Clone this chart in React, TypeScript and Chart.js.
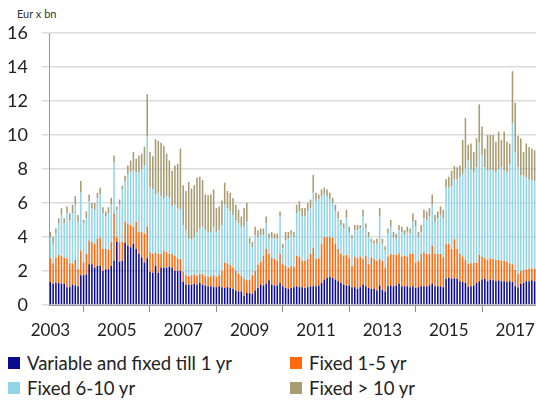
import React, { useEffect, useRef } from 'react';
import Chart from 'chart.js/auto';

// Jan 2003 .. Aug 2017, one value per month, EUR bn
const years = [2003, 2004, 2005, 2006, 2007, 2008, 2009, 2010, 2011, 2012, 2013, 2014, 2015, 2016, 2017];
const tickYears = ['2003', '2005', '2007', '2009', '2011', '2013', '2015', '2017'];

const variableTill1 = [
  1.35, 1.25, 1.3, 1.3, 1.25, 1.25, 1.05, 1.05, 1.2, 1.15, 1.1, 1.75,
  1.75, 1.8, 2.4, 2.4, 2.2, 2.3, 2.3, 2.0, 2.1, 2.1, 2.3, 2.6,
  3.7, 2.55, 2.6, 3.65, 3.5, 3.4, 3.6, 3.3, 3.0, 2.8, 2.5, 2.75,
  1.95, 1.9, 2.3, 1.9, 2.2, 2.2, 2.2, 2.25, 2.2, 2.0, 2.0, 2.0,
  1.35, 1.2, 1.2, 1.2, 1.25, 1.2, 1.3, 1.2, 1.15, 1.1, 1.1, 1.05,
  1.05, 1.1, 1.05, 1.0, 1.05, 1.0, 0.95, 0.85, 0.8, 0.8, 0.55, 0.7,
  0.7, 0.65, 0.85, 1.0, 1.2, 1.15, 1.25, 1.45, 1.2, 1.15, 1.15, 1.3,
  1.1, 1.0, 0.95, 1.0, 1.05, 1.1, 1.05, 1.05, 1.0, 1.05, 1.1, 1.1,
  1.1, 1.15, 1.3, 1.5, 1.6, 1.65, 1.6, 1.5, 1.4, 1.3, 1.2, 1.15,
  1.15, 1.05, 1.05, 0.95, 1.05, 1.2, 1.1, 1.0, 0.95, 0.95, 0.85, 1.15,
  0.9, 0.8, 1.1, 1.15, 1.1, 1.15, 1.25, 1.1, 1.1, 1.1, 1.05, 1.1,
  1.0, 1.05, 1.1, 1.1, 1.1, 1.15, 1.25, 1.1, 1.1, 1.1, 1.05, 1.55,
  1.6, 1.55, 1.57, 1.55, 1.4, 1.35, 1.3, 1.07, 1.1, 1.15, 1.3, 1.4,
  1.5, 1.55, 1.4, 1.5, 1.45, 1.4, 1.45, 1.4, 1.4, 1.35, 1.4, 1.35,
  1.1, 1.05, 1.25, 1.3, 1.4, 1.4, 1.45, 1.4,
];

const fixed1to5 = [
  1.4, 1.2, 1.5, 1.65, 1.65, 1.55, 1.7, 1.4, 1.25, 1.5, 1.0, 1.45,
  0.75, 1.2, 1.4, 1.3, 1.4, 1.6, 1.65, 1.3, 1.2, 1.15, 1.4, 2.8,
  0.3, 1.15, 1.1, 1.25, 1.3, 1.3, 1.0, 1.6, 1.3, 1.5, 1.7, 1.85,
  1.15, 1.1, 0.8, 1.1, 0.8, 1.0, 0.9, 0.75, 0.8, 0.9, 0.75, 0.7,
  0.6, 0.55, 0.5, 0.55, 0.55, 0.5, 0.55, 0.6, 0.55, 0.55, 0.6, 0.7,
  0.6, 0.7, 0.95, 1.5, 1.4, 1.35, 1.25, 1.15, 1.05, 0.9, 1.0, 0.75,
  0.8, 1.1, 1.15, 1.35, 1.35, 1.75, 2.05, 1.55, 1.6, 1.55, 1.45, 1.7,
  1.3, 1.3, 1.25, 1.3, 1.2, 1.8, 1.8, 1.55, 1.6, 1.65, 1.9, 2.25,
  1.6, 1.6, 2.3, 2.5, 2.4, 2.35, 2.35, 2.1, 1.9, 1.7, 1.7, 1.8,
  1.6, 1.25, 1.8, 1.8, 1.8, 1.5, 1.8, 1.4, 1.85, 1.75, 1.75, 1.55,
  1.7, 1.4, 1.75, 1.85, 1.85, 1.8, 1.8, 1.75, 1.8, 1.75, 1.95, 1.9,
  1.5, 1.55, 1.9, 2.0, 1.9, 1.85, 2.25, 1.9, 1.9, 1.9, 1.75, 2.05,
  2.0, 1.75, 2.3, 1.75, 1.6, 1.5, 1.35, 1.35, 1.35, 1.35, 1.2, 1.55,
  1.35, 1.2, 1.25, 1.25, 1.25, 1.25, 1.2, 1.2, 1.2, 1.2, 1.05, 1.05,
  0.96, 0.8, 0.75, 0.75, 0.7, 0.75, 0.7, 0.75,
];

const fixed6to10 = [
  1.25, 1.15, 1.4, 1.85, 2.4, 2.0, 2.65, 2.55, 2.95, 3.25, 2.8, 3.4,
  2.3, 2.1, 2.3, 2.0, 2.0, 2.4, 2.55, 2.1, 1.9, 2.15, 2.2, 3.0,
  1.6, 2.2, 3.1, 2.4, 2.9, 3.1, 3.3, 2.9, 3.5, 3.7, 4.0, 5.3,
  3.8, 3.8, 3.4, 3.6, 3.4, 3.1, 3.3, 3.3, 2.8, 3.0, 2.95, 2.9,
  2.75, 2.65, 2.2, 2.1, 2.2, 2.6, 2.65, 2.8, 2.7, 2.65, 2.6, 2.85,
  2.65, 2.6, 2.7, 3.4, 3.25, 3.15, 3.1, 3.0, 2.95, 2.9, 3.05, 3.45,
  2.1, 1.65, 2.1, 1.65, 1.55, 1.2, 1.5, 0.9, 1.2, 1.2, 1.3, 2.2,
  0.95, 1.5, 1.7, 1.8, 1.75, 2.5, 2.65, 2.6, 2.6, 2.8, 2.7, 3.25,
  3.4, 3.45, 2.8, 2.5, 2.4, 2.2, 2.05, 1.9, 1.8, 1.7, 1.6, 2.15,
  1.55, 1.6, 1.55, 1.65, 1.65, 2.5, 1.6, 1.6, 0.9, 0.9, 1.0, 2.5,
  1.0, 1.0, 1.35, 1.6, 1.05, 0.95, 1.35, 1.45, 1.2, 1.45, 1.2, 1.9,
  2.1, 1.4, 1.3, 2.0, 2.0, 2.2, 2.4, 1.9, 2.1, 2.3, 2.3, 3.3,
  3.3, 3.7, 3.5, 4.1, 4.5, 4.85, 5.4, 6.1, 5.5, 5.3, 5.6, 6.6,
  5.95, 5.35, 5.25, 5.2, 5.2, 5.15, 5.35, 5.5, 5.3, 5.25, 5.85, 8.3,
  6.94, 6.25, 5.65, 5.55, 5.4, 5.22, 5.2, 5.15,
];

const fixedOver10 = [
  0.3, 0.4, 0.3, 0.3, 0.4, 0.3, 0.4, 0.4, 0.5, 0.5, 0.4, 0.7,
  0.2, 0.4, 0.4, 0.3, 0.4, 0.3, 0.4, 0.35, 0.3, 0.35, 0.4, 0.4,
  0.2, 0.3, 0.2, 0.3, 0.5, 0.7, 1.1, 0.8, 1.0, 0.9, 1.1, 2.5,
  2.1, 1.95, 3.25, 3.05, 3.15, 3.05, 2.5, 2.2, 2.1, 2.3, 2.6, 3.6,
  2.35, 2.3, 3.35, 3.0, 3.05, 3.2, 3.05, 2.75, 2.1, 2.15, 2.2, 2.2,
  1.4, 1.4, 1.45, 1.3, 1.0, 1.1, 1.0, 0.9, 0.8, 0.6, 1.1, 1.1,
  0.35, 0.3, 0.5, 0.4, 0.4, 0.4, 0.4, 0.3, 0.3, 0.3, 0.3, 0.3,
  0.25, 0.5, 0.4, 0.3, 0.3, 0.5, 0.6, 0.5, 0.5, 0.5, 0.5, 1.05,
  0.5, 0.3, 0.4, 0.4, 0.4, 0.4, 0.3, 0.4, 0.4, 0.3, 0.3, 0.5,
  0.3, 0.2, 0.3, 0.3, 0.2, 0.4, 0.3, 0.3, 0.2, 0.2, 0.3, 0.5,
  0.3, 0.25, 0.3, 0.4, 0.3, 0.3, 0.3, 0.3, 0.3, 0.3, 0.3, 0.5,
  0.4, 0.3, 0.4, 0.5, 0.5, 0.5, 0.6, 0.4, 0.4, 0.5, 0.5, 0.5,
  0.65, 0.9, 0.8, 0.7, 0.7, 2.0, 2.95, 0.9, 1.55, 1.2, 1.7, 2.25,
  1.7, 1.1, 2.1, 2.05, 2.1, 1.8, 2.2, 1.6, 2.3, 1.8, 1.2, 3.05,
  2.9, 1.85, 2.15, 1.4, 2.0, 1.93, 1.85, 1.8,
];

const seriesNames = ['Variable and fixed till 1 yr', 'Fixed 1-5 yr', 'Fixed 6-10 yr', 'Fixed > 10 yr'];
const seriesColors = ['#0b0b8f', '#ff6a10', '#92d5e8', '#a89b72'];
const seriesData = [variableTill1, fixed1to5, fixed6to10, fixedOver10];

const monthLabels = years
  .flatMap((y) => ['01', '02', '03', '04', '05', '06', '07', '08', '09', '10', '11', '12'].map((m) => `${y}-${m}`))
  .slice(0, variableTill1.length);

const FONT = 'Lato, "Open Sans", sans-serif';

const App: React.FC = () => {
  const canvasRef = useRef<HTMLCanvasElement>(null);
  const chartRef = useRef<Chart | null>(null);

  useEffect(() => {
    if (!canvasRef.current) return;
    if (chartRef.current) chartRef.current.destroy();

    chartRef.current = new Chart(canvasRef.current, {
      type: 'bar',
      data: {
        labels: monthLabels,
        datasets: seriesData.map((values, i) => ({
          label: seriesNames[i],
          data: values,
          backgroundColor: seriesColors[i],
          borderWidth: 0,
          barPercentage: 0.56,
          categoryPercentage: 1,
        })),
      },
      options: {
        animation: false,
        responsive: true,
        maintainAspectRatio: false,
        layout: { padding: { top: 33, right: 0, bottom: 0, left: 0 } },
        plugins: {
          legend: { display: false },
          title: { display: false },
        },
        scales: {
          x: {
            stacked: true,
            afterFit: (scale: any) => {
              scale.height = 40;
              scale.paddingLeft = 0;
              scale.paddingRight = 0;
            },
            grid: {
              drawOnChartArea: false,
              drawTicks: true,
              tickLength: 7,
              color: '#8c8c8c',
              offset: true,
            },
            border: { display: true, color: '#9a9a9a', width: 1 },
            ticks: {
              autoSkip: false,
              maxRotation: 0,
              padding: 8,
              color: '#222',
              font: { family: FONT, size: 17 },
              callback: function (this: any, _v: any, index: number) {
                const [y, m] = monthLabels[index].split('-');
                return m === '01' && tickYears.includes(y) ? y : null;
              },
            },
          },
          y: {
            stacked: true,
            min: 0,
            max: 16,
            afterFit: (scale: any) => {
              scale.width = 49;
            },
            grid: {
              color: '#dcdcdc',
              lineWidth: 1.5,
              drawTicks: true,
              tickLength: 7,
            },
            border: { display: true, color: '#9a9a9a', width: 1 },
            ticks: {
              stepSize: 2,
              padding: 14,
              color: '#222',
              font: { family: FONT, size: 18 },
            },
          },
        },
      },
    });

    return () => {
      if (chartRef.current) {
        chartRef.current.destroy();
        chartRef.current = null;
      }
    };
  }, []);

  const legendPos = [
    { left: 8, top: 354 },
    { left: 290, top: 354 },
    { left: 8, top: 379 },
    { left: 290, top: 379 },
  ];

  return (
    <div style={{ position: 'fixed', left: 0, top: 0, width: 536, height: 401, background: '#fff', overflow: 'hidden' }}>
      <div style={{ position: 'absolute', left: 17, top: 7, fontFamily: FONT, fontSize: 11, color: '#333' }}>Eur x bn</div>
      <div style={{ position: 'absolute', left: 0, top: 0, width: 536, height: 345 }}>
        <canvas ref={canvasRef}></canvas>
      </div>
      {seriesNames.map((name, i) => (
        <div
          key={name}
          style={{
            position: 'absolute',
            left: legendPos[i].left,
            top: legendPos[i].top,
            display: 'flex',
            alignItems: 'center',
            fontFamily: FONT,
            fontSize: 18.5,
            color: '#222',
            whiteSpace: 'nowrap',
            lineHeight: '18px',
          }}
        >
          <span style={{ display: 'inline-block', width: 12, height: 12, background: seriesColors[i], marginRight: 7 }} />
          {name}
        </div>
      ))}
    </div>
  );
};

export default App;
